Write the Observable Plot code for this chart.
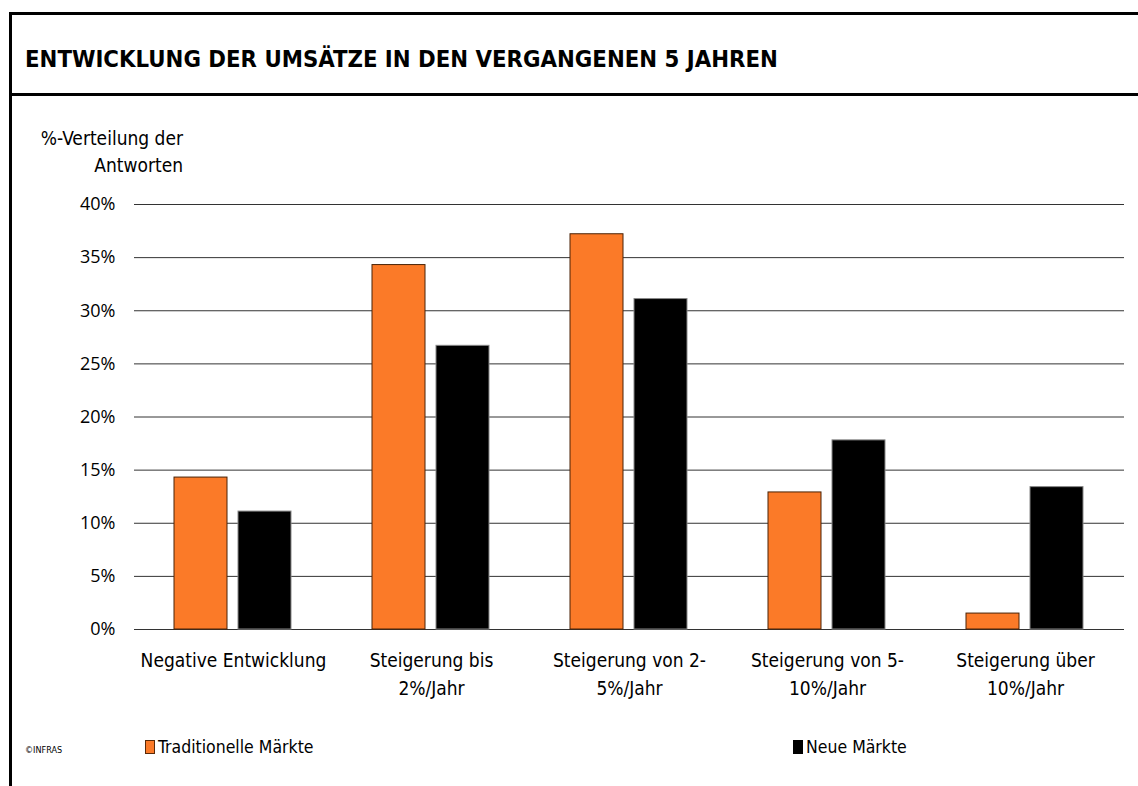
<!DOCTYPE html>
<html><head><meta charset="utf-8">
<script src="https://cdn.jsdelivr.net/npm/d3@7"></script>
<script src="https://cdn.jsdelivr.net/npm/@observablehq/plot@0.6"></script>
<style>
body{margin:0;background:#fff;}
#page{position:relative;width:1138px;height:786px;overflow:hidden;font-family:"DejaVu Sans Condensed","Liberation Sans Narrow","DejaVu Sans",sans-serif;color:#000;}
.hline{position:absolute;left:9px;right:0;height:3px;background:#000;}
.vline{position:absolute;left:9px;top:12px;bottom:0;width:3px;background:#000;}
#title{position:absolute;left:25px;top:45px;font-size:23.7px;font-weight:bold;white-space:nowrap;}
#ylab{position:absolute;right:955px;top:125px;font-size:19px;line-height:27px;text-align:right;white-space:nowrap;}
#chart{position:absolute;left:0;top:100px;}
.leg{position:absolute;top:737px;font-size:17.5px;white-space:nowrap;display:flex;align-items:center;}
.sw{display:inline-block;width:10px;height:14px;margin-right:3px;box-sizing:border-box;}
#copy{position:absolute;left:25px;top:745px;font-size:9px;}
</style></head>
<body><div id="page">
<div class="hline" style="top:12px"></div>
<div class="hline" style="top:93px"></div>
<div class="vline"></div>
<div id="title">ENTWICKLUNG DER UMSÄTZE IN DEN VERGANGENEN 5 JAHREN</div>
<div id="ylab">%-Verteilung der<br>Antworten</div>
<div id="chart"></div>
<div id="copy">©INFRAS</div>
<div class="leg" style="left:145px"><span class="sw" style="background:#fb7a28;border:1px solid #5a2a08"></span>Traditionelle Märkte</div>
<div class="leg" style="left:793px"><span class="sw" style="background:#000"></span>Neue Märkte</div>
</div>
<script>
const categories = ["Negative Entwicklung", "Steigerung bis\n2%/Jahr", "Steigerung von 2-\n5%/Jahr", "Steigerung von 5-\n10%/Jahr", "Steigerung über\n10%/Jahr"];
const series = ["Traditionelle Märkte", "Neue Märkte"];
const traditionelle = [14.3, 34.3, 37.2, 12.9, 1.5];
const neue = [11.1, 26.7, 31.1, 17.8, 13.4];
const yTicks = [0, 5, 10, 15, 20, 25, 30, 35, 40];

const data = categories.flatMap((c, i) => [
  {cat: c, series: series[0], value: traditionelle[i]},
  {cat: c, series: series[1], value: neue[i]}
]);

const chart = Plot.plot({
  width: 1138,
  height: 609,
  marginLeft: 132,
  marginRight: 12,
  marginTop: 104,
  marginBottom: 80,
  style: {fontFamily: '"DejaVu Sans Condensed","Liberation Sans Narrow","DejaVu Sans",sans-serif', fontSize: "19px", color: "#000", background: "transparent"},
  fx: {domain: categories, padding: 0, label: null, axis: null},
  x: {domain: series, paddingInner: 0.169, paddingOuter: 0.615, axis: null},
  y: {domain: [0, 40], label: null, axis: null},
  marks: [
    Plot.ruleY(yTicks, {stroke: "#333", strokeWidth: 1}),
    Plot.barY(data.filter(d => d.series === series[0]), {fx: "cat", x: "series", y: "value", fill: "#fb7a28", stroke: "#4a2206", strokeWidth: 1}),
    Plot.barY(data.filter(d => d.series === series[1]), {fx: "cat", x: "series", y: "value", fill: "#000", stroke: "#888", strokeWidth: 1}),
    Plot.axisY(yTicks, {tickSize: 0, tickPadding: 19, tickFormat: d => d + "%", fontSize: 18, fontFamily: '"Open Sans",sans-serif', label: null}),
    Plot.axisFx({anchor: "bottom", tickSize: 0, tickPadding: 18, label: null, lineHeight: 1.47, fontSize: 19, lineWidth: 40})
  ]
});
document.getElementById("chart").appendChild(chart);
</script>
</body></html>
